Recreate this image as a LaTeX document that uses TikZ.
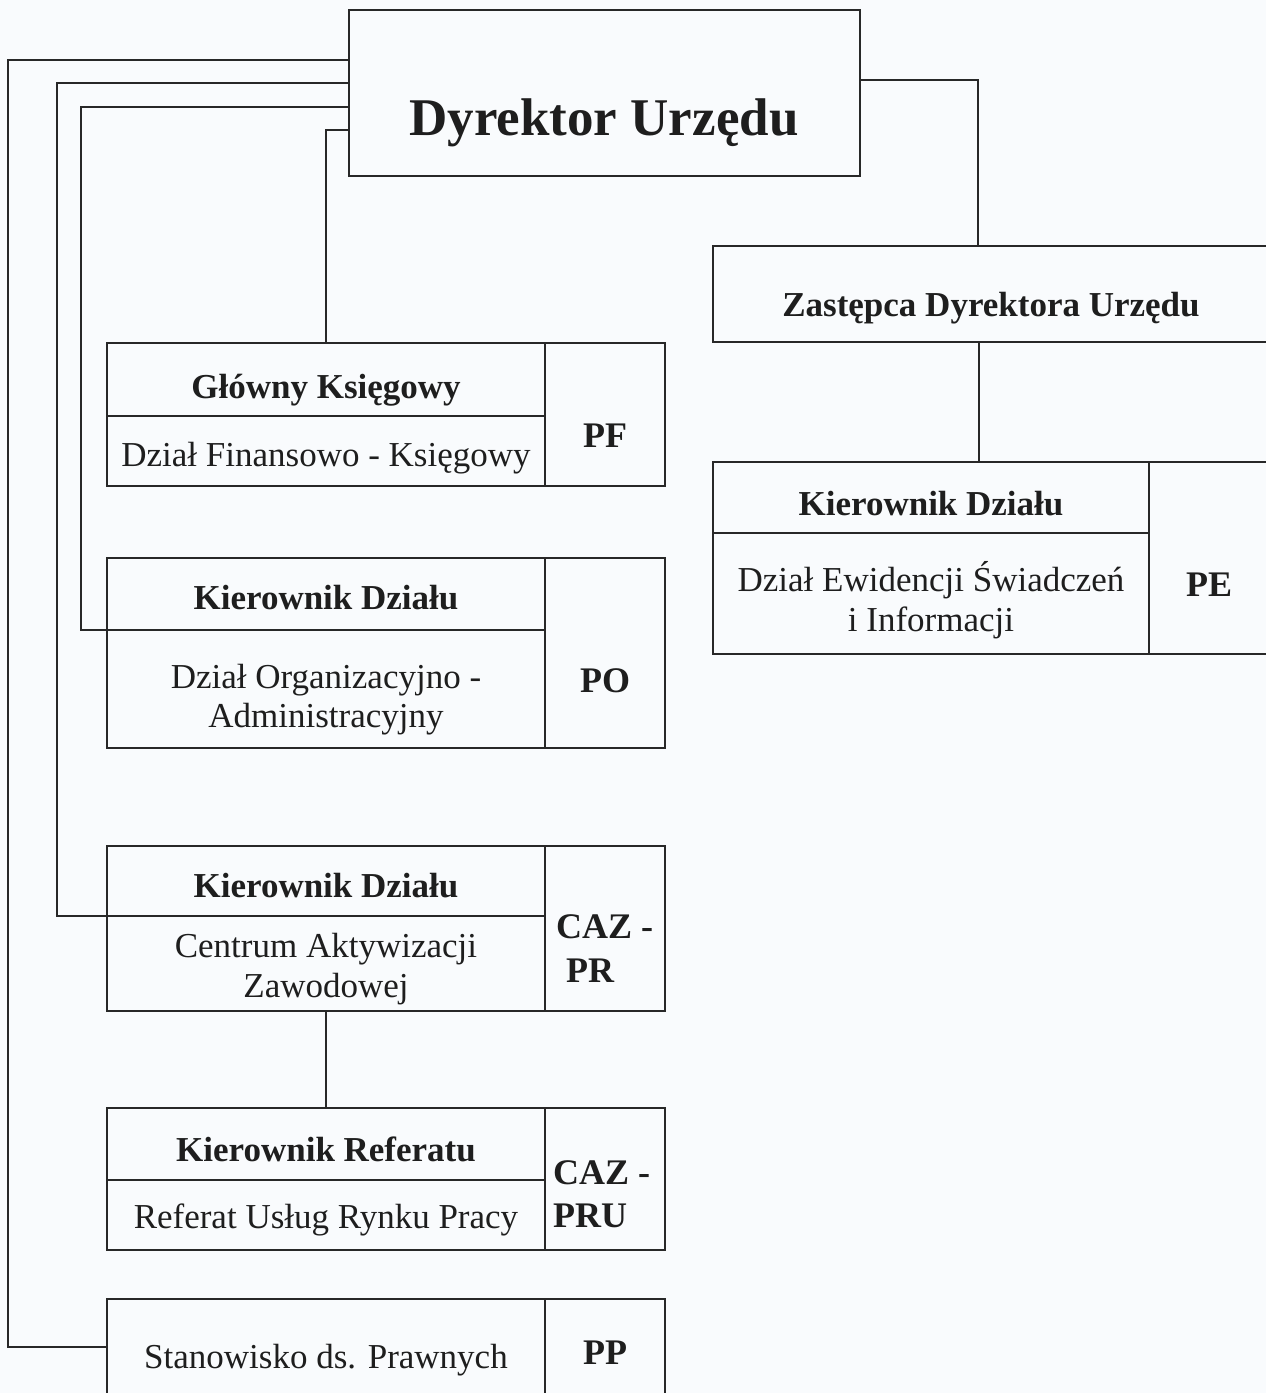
\documentclass[tikz,border=0pt]{standalone}
\usepackage{fontspec}
\setmainfont{Liberation Serif}
\usetikzlibrary{fit}
\definecolor{linec}{RGB}{40,40,40}
\definecolor{txtc}{RGB}{30,30,30}
\definecolor{bgc}{RGB}{249,251,253}
\tikzset{
  cell/.style={draw=linec, line width=1.5pt, inner sep=0pt, outer sep=0pt, rectangle},
  conn/.style={draw=linec, line width=1.5pt},
  bt/.style={font=\bfseries\fontsize{35}{42}\selectfont, text=txtc, anchor=base, inner sep=0pt},
  rt/.style={font=\fontsize{35}{42}\selectfont, text=txtc, anchor=base, inner sep=0pt},
  codet/.style={font=\bfseries\fontsize{36}{42}\selectfont, text=txtc, anchor=base, inner sep=0pt},
  codel/.style={codet, anchor=base west},
  titlet/.style={font=\bfseries\fontsize{53}{60}\selectfont, text=txtc, anchor=base, inner sep=0pt}
}
\begin{document}
\begin{tikzpicture}[x=1pt,y=-1pt]
\useasboundingbox (0,0) rectangle (1266,1393);
\clip (0,0) rectangle (1266,1393);
\fill[bgc] (0,0) rectangle (1266,1393);

% Dyrektor
\node[cell, fit={(349,10) (860,176)}] (dyr) {};
\node[titlet] (dyrt) at (604,135) {Dyrektor Urzędu};

% Zastepca
\node[cell, fit={(713,246) (1272,342)}] (zas) {};
\node[bt] (zast) at (991,316) {Zastępca Dyrektora Urzędu};

% PE
\node[cell, fit={(713,462) (1149,533)}] (peh) {};
\node[cell, fit={(713,533) (1149,654)}] (peb) {};
\node[cell, fit={(1149,462) (1272,654)}] (pec) {};
\node[bt] (peht) at (931,515) {Kierownik Działu};
\node[rt] (pebt1) at (931,591) {Dział Ewidencji Świadczeń};
\node[rt] (pebt2) at (931,631) {i Informacji};
\node[codet] (pect) at (1209,596) {PE};

% PF
\node[cell, fit={(107,343) (545,416)}] (pfh) {};
\node[cell, fit={(107,416) (545,486)}] (pfb) {};
\node[cell, fit={(545,343) (665,486)}] (pfc) {};
\node[bt] (pfht) at (326,398) {Główny Księgowy};
\node[rt] (pfbt) at (326,466) {Dział Finansowo - Księgowy};
\node[codet] (pfct) at (605,447) {PF};

% PO
\node[cell, fit={(107,558) (545,630)}] (poh) {};
\node[cell, fit={(107,630) (545,748)}] (pob) {};
\node[cell, fit={(545,558) (665,748)}] (poc) {};
\node[bt] (poht) at (326,609) {Kierownik Działu};
\node[rt] (pobt1) at (326,688) {Dział Organizacyjno -};
\node[rt] (pobt2) at (326,727) {Administracyjny};
\node[codet] (poct) at (605,692) {PO};

% CAZ-PR
\node[cell, fit={(107,846) (545,916)}] (cazh) {};
\node[cell, fit={(107,916) (545,1011)}] (cazb) {};
\node[cell, fit={(545,846) (665,1011)}] (cazc) {};
\node[bt] (cazht) at (326,897) {Kierownik Działu};
\node[rt] (cazbt1) at (326,957) {Centrum Aktywizacji};
\node[rt] (cazbt2) at (326,997) {Zawodowej};
\node[codel] (cazct1) at (556,938) {CAZ -};
\node[codel] (cazct2) at (566,982) {PR};

% CAZ-PRU
\node[cell, fit={(107,1108) (545,1180)}] (pruh) {};
\node[cell, fit={(107,1180) (545,1250)}] (prub) {};
\node[cell, fit={(545,1108) (665,1250)}] (pruc) {};
\node[bt] (pruht) at (326,1161) {Kierownik Referatu};
\node[rt] (prubt) at (326,1228) {Referat Usług Rynku Pracy};
\node[codel] (pruct1) at (553,1184) {CAZ -};
\node[codel] (pruct2) at (553,1227) {PRU};

% PP
\node[cell, fit={(107,1299) (545,1430)}] (pps) {};
\node[cell, fit={(545,1299) (665,1430)}] (ppc) {};
\node[rt] (ppst) at (326,1368) {Stanowisko ds. Prawnych};
\node[codet] (ppct) at (605,1364) {PP};

% connector coordinates
\coordinate (k1) at (8,60);   \coordinate (k1b) at (8,1347);
\coordinate (k2) at (57,83);
\coordinate (k3) at (81,107);
\coordinate (k4) at (326,130);
\coordinate (r1) at (978,80);
\coordinate (r2) at (979,400);

% connectors
\draw[conn] (dyr.west |- k1) -- (k1) -- (k1b) -- (k1b -| pps.west);
\draw[conn] (dyr.west |- k2) -- (k2) -- (k2 |- cazh.south) -- (cazh.south west);
\draw[conn] (dyr.west |- k3) -- (k3) -- (k3 |- poh.south) -- (poh.south west);
\draw[conn] (dyr.west |- k4) -- (k4) -- (pfh.north);
\draw[conn] (dyr.east |- r1) -- (r1) -- (zas.north -| r1);
\draw[conn] (zas.south -| r2) -- (peh.north -| r2);
\draw[conn] (cazb.south) -- (pruh.north);
\end{tikzpicture}
\end{document}
